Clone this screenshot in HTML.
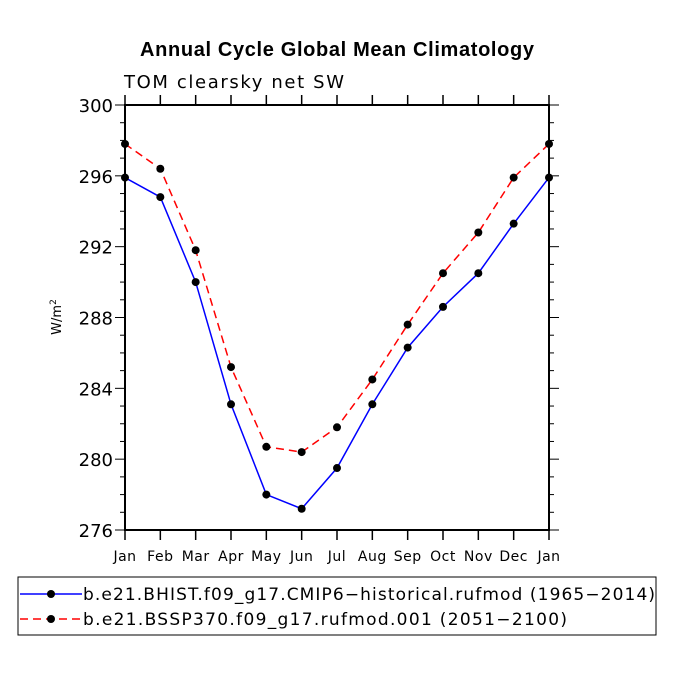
<!DOCTYPE html>
<html><head><meta charset="utf-8"><style>body{margin:0;background:#fff}svg{display:block;font-family:"DejaVu Sans","Liberation Sans",sans-serif}</style></head>
<body>
<svg id="c" width="675" height="675" viewBox="0 0 675 675">
<text x="337" y="56" text-anchor="middle" font-size="20" font-weight="bold" font-family="Liberation Sans, sans-serif" textLength="394">Annual Cycle Global Mean Climatology</text>
<text x="124" y="88" font-size="18" letter-spacing="1" textLength="221">TOM clearsky net SW</text>
<text transform="translate(61,317) rotate(-90)" text-anchor="middle" font-size="13">W/m<tspan dy="-5" font-size="9">2</tspan></text>
<g id="axes"></g><g id="series"></g>
<rect x="18" y="577" width="638" height="58" fill="none" stroke="#000" stroke-width="1"/>
<g>
<line x1="20" y1="594" x2="82" y2="594" stroke="#0000ff" stroke-width="1.5"/><circle cx="51" cy="594" r="4" fill="#000"/>
<text x="83" y="600" font-size="17" textLength="572">b.e21.BHIST.f09_g17.CMIP6−historical.rufmod (1965−2014)</text></g>
<g>
<line x1="20" y1="619" x2="82" y2="619" stroke="#ff0000" stroke-width="1.5" stroke-dasharray="8,5"/><circle cx="51" cy="619" r="4" fill="#000"/>
<text x="83" y="625" font-size="17" textLength="484">b.e21.BSSP370.f09_g17.rufmod.001 (2051−2100)</text></g>
</svg>
<script>
const months=["Jan","Feb","Mar","Apr","May","Jun","Jul","Aug","Sep","Oct","Nov","Dec","Jan"];
const histValues=[295.9,294.8,290.0,283.1,278.0,277.2,279.5,283.1,286.3,288.6,290.5,293.3,295.9];
const sspValues=[297.8,296.4,291.8,285.2,280.7,280.4,281.8,284.5,287.6,290.5,292.8,295.9,297.8];
const yTicks=[276,280,284,288,292,296,300];
const NS="http://www.w3.org/2000/svg";
const L=125,R=549,T=105,B=530,yMin=276,yMax=300;
const xs=i=>L+(R-L)*i/(months.length-1);
const ys=v=>B-(B-T)*(v-yMin)/(yMax-yMin);
function mk(tag,attrs,parent){const e=document.createElementNS(NS,tag);for(const k in attrs)e.setAttribute(k,attrs[k]);parent.appendChild(e);return e;}
const ax=document.getElementById('axes');
const fr=mk('rect',{x:L,y:T,width:R-L,height:B-T,fill:'none',stroke:'#000','stroke-width':2},ax);


months.forEach((m,i)=>{const x=xs(i);
 mk('line',{x1:x,y1:B,x2:x,y2:B+10,stroke:'#000','stroke-width':1.5},ax);
 mk('line',{x1:x,y1:T,x2:x,y2:T-10,stroke:'#000','stroke-width':1.5},ax);
 const t=mk('text',{x:x,y:B+31,'text-anchor':'middle','font-size':14,'letter-spacing':0.5},ax);t.textContent=m;
 
 
});
for(let v=yMin;v<=yMax;v+=1){const y=ys(v);const major=(v-yMin)%4===0;const len=major?10:5;
 mk('line',{x1:L,y1:y,x2:L-len,y2:y,stroke:'#000','stroke-width':1},ax);
 mk('line',{x1:R,y1:y,x2:R+len,y2:y,stroke:'#000','stroke-width':1},ax);}
yTicks.forEach(v=>{const t=mk('text',{x:L-12,y:ys(v)+7,'text-anchor':'end','font-size':18},ax);t.textContent=v;
 
 });
const sg=document.getElementById('series');
function series(vals,color,dash,name){const g=mk('g',{},sg);
 
 
 const p=vals.map((v,i)=>xs(i)+','+ys(v)).join(' ');
 const a={points:p,fill:'none',stroke:color,'stroke-width':1.5};if(dash)a['stroke-dasharray']=dash;mk('polyline',a,g);
 vals.forEach((v,i)=>{const c=mk('circle',{cx:xs(i),cy:ys(v),r:4,fill:'#000'},g);
  
  });}
series(histValues,'#0000ff',null,'series-historical');
series(sspValues,'#ff0000','8,5','series-ssp370');
</script>
</body></html>
